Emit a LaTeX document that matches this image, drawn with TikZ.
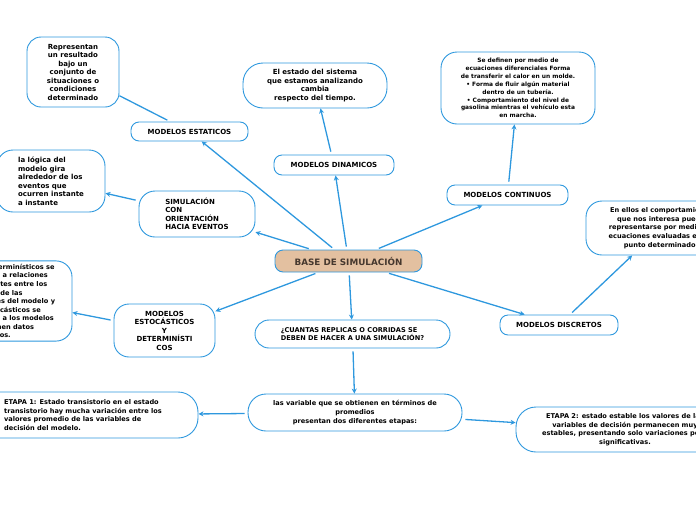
\documentclass[tikz,border=0pt]{standalone}
\usepackage{fontspec}
\setmainfont{DejaVu Sans}
\usetikzlibrary{arrows.meta, positioning}
\definecolor{mapblue}{RGB}{46,152,222}
\definecolor{rootfill}{RGB}{227,192,160}
\definecolor{roottext}{RGB}{70,56,46}
\tikzset{
  topic_box/.style={rectangle, draw=mapblue, fill=white, rounded corners=8pt, line width=0.9pt, align=center, inner sep=2pt, font=\fontsize{7}{8.4}\selectfont\bfseries},
  idea_box/.style={rectangle, draw=mapblue, fill=white, rounded corners=15pt, line width=0.9pt, align=center, inner sep=3pt, font=\fontsize{7}{8.5}\selectfont\bfseries},
  small_text/.style={font=\fontsize{6.6}{8.6}\selectfont\bfseries},
  tiny_text/.style={font=\fontsize{5.9}{7.9}\selectfont\bfseries},
  root_box/.style={rectangle, draw=mapblue, fill=rootfill, rounded corners=8pt, line width=0.9pt, text=roottext, font=\fontsize{8.8}{10}\selectfont\bfseries},
  link/.style={-{Stealth[length=5pt,width=5pt]}, mapblue, line width=1.3pt, shorten <=3pt},
  link_plain/.style={-, mapblue, line width=1.3pt, shorten <=3pt}
}

\begin{document}
\begin{tikzpicture}[x=1pt, y=-1pt]
  \useasboundingbox (0,0) rectangle (696,520);
  \clip (0,0) rectangle (696,520);

  % --- 1. Root ---
  \node[root_box, minimum width=147pt, minimum height=22pt] (root) at (348.5,261) {BASE DE SIMULACIÓN};

  % --- 2. Main branches ---
  \node[topic_box, minimum width=117pt, minimum height=19pt] (estaticos) at (189.5,131.5) {MODELOS ESTATICOS};
  \node[topic_box, minimum width=120pt, minimum height=20pt] (dinamicos) at (334,165) {MODELOS DINAMICOS};
  \node[topic_box, minimum width=121pt, minimum height=20pt] (continuos) at (507.5,195) {MODELOS CONTINUOS};
  \node[topic_box, minimum width=118pt, minimum height=20pt] (discretos) at (559,325) {MODELOS DISCRETOS};
  \node[idea_box, align=left, minimum width=116pt, minimum height=46pt, rounded corners=16pt] (eventos) at (197,214)
    {SIMULACIÓN\\CON\\ORIENTACIÓN\\HACIA EVENTOS};
  \node[idea_box, minimum width=101pt, minimum height=53pt] (estocasticos) at (164.5,330.5)
    {MODELOS\\ESTOCÁSTICOS\\Y\\DETERMINÍSTI\\COS};
  \node[idea_box, small_text, align=left, minimum width=195pt, minimum height=28pt, rounded corners=14pt] (replicas) at (352.5,334)
    {¿CUANTAS REPLICAS O CORRIDAS SE\\DEBEN DE HACER A UNA SIMULACIÓN?};
  \node[idea_box, small_text, minimum width=214pt, minimum height=37pt, rounded corners=18pt] (promedios) at (355,412.5)
    {las variable que se obtienen en términos de\\promedios\\presentan dos diferentes etapas:};

  % --- 3. Leaves ---
  \node[idea_box, minimum width=92pt, minimum height=70pt, rounded corners=14pt] (resultado) at (73,72)
    {Representan\\un resultado\\bajo un\\conjunto de\\situaciones o\\condiciones\\determinado};
  \node[idea_box, align=left, minimum width=108pt, minimum height=62pt, rounded corners=16pt] (logica) at (51,181)
    {la lógica del\\modelo gira\\alrededor de los\\eventos que\\ocurren instante\\a instante};
  \node[idea_box, minimum width=144pt, minimum height=45pt, rounded corners=20pt] (estado) at (315,85.5)
    {El estado del sistema\\que estamos analizando\\cambia\\respecto del tiempo.};
  \node[idea_box, tiny_text, minimum width=154pt, minimum height=72pt, rounded corners=16pt] (ecuaciones) at (518,88)
    {Se definen por medio de\\ecuaciones diferenciales Forma\\de transferir el calor en un molde.\\• Forma de fluir algún material\\dentro de un tubería.\\• Comportamiento del nivel de\\gasolina mientras el vehículo esta\\en marcha.};
  \node[idea_box, small_text, minimum width=150pt, minimum height=54pt, rounded corners=16pt] (punto) at (661,228)
    {En ellos el comportamiento\\que nos interesa puede\\representarse por medio de\\ecuaciones evaluadas en un\\punto determinado.};
  \node[idea_box, small_text, align=left, minimum width=118pt, minimum height=78pt, rounded corners=16pt] (aleatorios) at (13,301)
    {Los determinísticos se\\refieren a relaciones\\constantes entre los\\valores de las\\variables del modelo y\\los estocásticos se\\refieren a los modelos\\que tienen datos\\aleatorios.};
  \node[idea_box, small_text, align=left, minimum width=230pt, minimum height=46pt, rounded corners=20pt] (etapa1) at (83,415)
    {ETAPA 1: Estado transistorio en el estado\\transistorio hay mucha variación entre los\\valores promedio de las variables de\\decisión del modelo.};
  \node[idea_box, small_text, minimum width=218pt, minimum height=45pt, rounded corners=20pt] (etapa2) at (625,429.5)
    {ETAPA 2: estado estable los valores de las\\variables de decisión permanecen muy\\estables, presentando solo variaciones poco\\significativas.};

  % --- 4. Connectors ---
  \draw[link] (root) -- (estaticos);
  \draw[link] (root) -- (eventos);
  \draw[link] (root) -- (dinamicos);
  \draw[link] (root) -- (continuos);
  \draw[link] (root) -- (discretos);
  \draw[link] (root) -- (estocasticos);
  \draw[link] (root) -- (replicas);
  \draw[link_plain] (estaticos) -- (resultado);
  \draw[link] (eventos) -- (logica);
  \draw[link] (dinamicos) -- (estado);
  \draw[link] (continuos) -- (ecuaciones);
  \draw[link] (discretos) -- (punto);
  \draw[link] (estocasticos) -- (aleatorios);
  \draw[link] (replicas) -- (promedios);
  \draw[link] (promedios) -- (etapa1);
  \draw[link] (promedios) -- (etapa2);
\end{tikzpicture}
\end{document}
